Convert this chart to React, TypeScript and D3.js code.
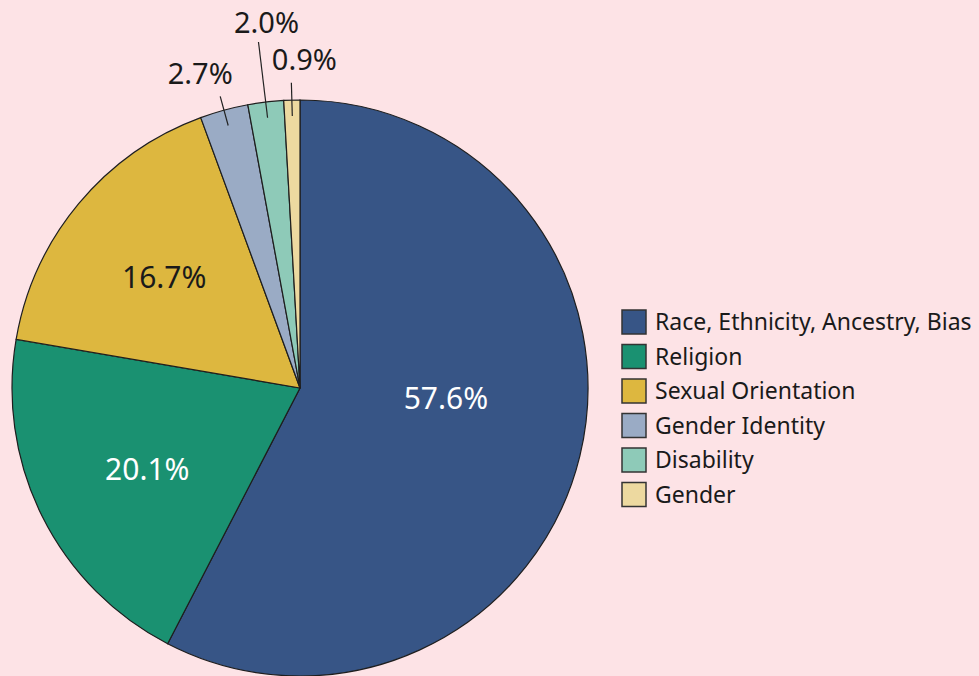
import React, { useEffect, useRef } from 'react';
import * as d3 from 'd3';

const categories = [
  'Race, Ethnicity, Ancestry, Bias',
  'Religion',
  'Sexual Orientation',
  'Gender Identity',
  'Disability',
  'Gender',
];
const values = [57.6, 20.1, 16.7, 2.7, 2.0, 0.9];
const colors = ['#375586', '#1a9171', '#ddb73f', '#9aabc5', '#8ecab8', '#edd9a0'];
const labelColors = ['#ffffff', '#ffffff', '#1a1a1a', '#1a1a1a', '#1a1a1a', '#1a1a1a'];

// outside labels for the thin slices: leader end radius (x R) and text nudge
const outside: Record<number, { r: number; dx: number; dy: number }> = {
  3: { r: 1.05, dx: -20, dy: -12 },
  4: { r: 1.21, dx: 8, dy: -9 },
  5: { r: 1.06, dx: 13, dy: -13 },
};
// small nudges for the inside labels
const inside: Record<number, { dx: number; dy: number }> = {
  0: { dx: -22, dy: -30 },
  1: { dx: 2, dy: 5 },
  2: { dx: -3, dy: 0 },
};

export default function App() {
  const ref = useRef<SVGSVGElement>(null);
  const width = 979,
    height = 676;
  const cx = 300,
    cy = 388,
    R = 288;
  const font = "'Noto Sans', 'DejaVu Sans', sans-serif";

  useEffect(() => {
    const svg = d3.select(ref.current);
    svg.selectAll('*').remove();

    svg.append('rect').attr('width', width).attr('height', height).attr('fill', '#fde3e6');

    const pie = d3.pie<number>().sort(null).value((d) => d);
    const arcs = pie(values);
    const arc = d3.arc<d3.PieArcDatum<number>>().innerRadius(0).outerRadius(R);

    const g = svg.append('g').attr('transform', `translate(${cx},${cy})`);

    g.selectAll('path.slice')
      .data(arcs)
      .join('path')
      .attr('class', 'slice')
      .attr('d', arc)
      .attr('fill', (d, i) => colors[i])
      .attr('stroke', '#1e1e1e')
      .attr('stroke-width', 1.2);

    const labelArc = d3.arc<d3.PieArcDatum<number>>().innerRadius(R * 0.6).outerRadius(R * 0.6);

    arcs.forEach((d, i) => {
      const mid = (d.startAngle + d.endAngle) / 2;
      const o = outside[i];
      if (o) {
        const r0 = R * 0.945;
        const r1 = R * o.r;
        const x0 = Math.sin(mid) * r0,
          y0 = -Math.cos(mid) * r0;
        const x1 = Math.sin(mid) * r1,
          y1 = -Math.cos(mid) * r1;
        g.append('line')
          .attr('x1', x0)
          .attr('y1', y0)
          .attr('x2', x1)
          .attr('y2', y1)
          .attr('stroke', '#222')
          .attr('stroke-width', 1.2);
        g.append('text')
          .attr('x', x1 + o.dx)
          .attr('y', y1 + o.dy)
          .attr('text-anchor', 'middle')
          .attr('font-family', font)
          .attr('font-size', 29)
          .attr('fill', '#1a1a1a')
          .text(`${d.data.toFixed(1)}%`);
      } else {
        const [x, y] = labelArc.centroid(d);
        const n = inside[i] || { dx: 0, dy: 0 };
        g.append('text')
          .attr('x', x + n.dx)
          .attr('y', y + n.dy)
          .attr('dy', '0.35em')
          .attr('text-anchor', 'middle')
          .attr('font-family', font)
          .attr('font-size', 30)
          .attr('fill', labelColors[i])
          .text(`${d.data.toFixed(1)}%`);
      }
    });

    const y = d3
      .scaleBand<string>()
      .domain(categories)
      .range([305, 512]);

    const legend = svg
      .append('g')
      .selectAll('g')
      .data(categories)
      .join('g')
      .attr('transform', (d) => `translate(622,${y(d)!})`);

    legend
      .append('rect')
      .attr('y', 5)
      .attr('width', 24)
      .attr('height', 24)
      .attr('fill', (d, i) => colors[i])
      .attr('stroke', '#333')
      .attr('stroke-width', 1.5);

    legend
      .append('text')
      .attr('x', 33)
      .attr('y', 17)
      .attr('dy', '0.35em')
      .attr('font-family', font)
      .attr('font-size', 23)
      .attr('fill', '#1a1a1a')
      .text((d) => d);
  }, []);

  return (
    <svg
      ref={ref}
      width={width}
      height={height}
      style={{ position: 'absolute', left: 0, top: 0, display: 'block' }}
    />
  );
}
